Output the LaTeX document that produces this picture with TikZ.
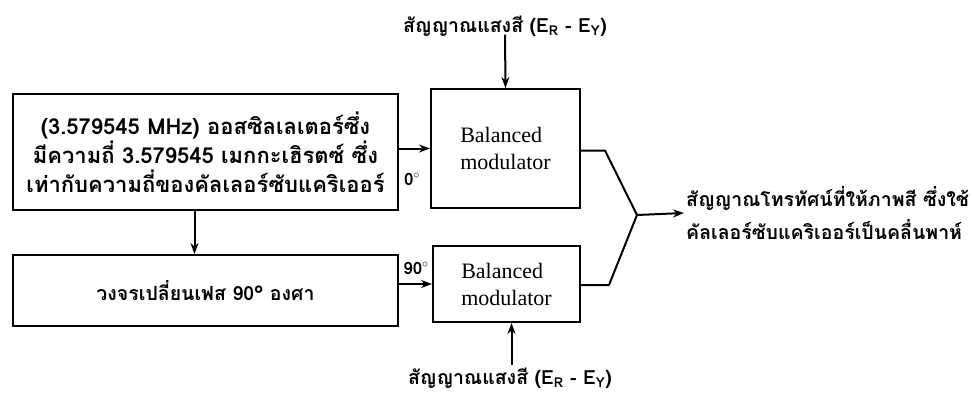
\documentclass[tikz,border=0pt]{standalone}
\usepackage{fontspec}
\setmainfont{Liberation Serif}
\newfontfamily\thai[Script=Thai]{Loma}
\usetikzlibrary{arrows.meta,calc}
\tikzset{
  blk/.style={draw,line width=2pt,inner sep=0pt,anchor=north west},
  thaitxt/.style={font=\thai\bfseries\fontsize{19.5}{29}\selectfont,align=center},
  bigthai/.style={font=\thai\bfseries\fontsize{22}{29}\selectfont,align=center},
  modtxt/.style={font=\fontsize{22}{27}\selectfont,align=left},
  conn/.style={line width=2pt},
  arr/.style={conn,-{Stealth[length=11pt,width=8pt]}},
  lbl/.style={font=\thai\bfseries\fontsize{17}{18}\selectfont,inner sep=1pt}
}
\begin{document}
\begin{tikzpicture}[x=1pt,y=-1pt]
\useasboundingbox (0,0) rectangle (972,396);
% blocks
\node[blk,minimum width=385pt,minimum height=116pt,bigthai] (osc) at (12,93)
  {(3.579545 MHz) ออสซิลเลเตอร์ซึ่ง\\มีความถี่ 3.579545 เมกกะเฮิรตซ์ ซึ่ง\\เท่ากับความถี่ของคัลเลอร์ซับแคริเออร์};
\node[blk,minimum width=385pt,minimum height=71pt,thaitxt] (ph) at (12,254)
  {วงจรเปลี่ยนเฟส 90° องศา};
\node[blk,minimum width=149pt,minimum height=119pt,modtxt] (m1) at (430,88)
  {Balanced\\modulator};
\node[blk,minimum width=147pt,minimum height=76pt,modtxt] (m2) at (432,245)
  {Balanced\\modulator};
% input labels
\node[thaitxt,inner sep=2pt] (t1) at (505,26) {สัญญาณแสงสี (E\textsubscript{R} - E\textsubscript{Y})};
\node[thaitxt,inner sep=2pt] (t2) at (510,378) {สัญญาณแสงสี (E\textsubscript{R} - E\textsubscript{Y})};
% output label
\node[thaitxt,align=left,anchor=west,inner sep=2pt,font=\thai\bfseries\fontsize{19.5}{33}\selectfont] (out) at (684,213)
  {สัญญาณโทรทัศน์ที่ให้ภาพสี ซึ่งใช้\\คัลเลอร์ซับแคริเออร์เป็นคลื่นพาห์};
\coordinate (j) at (637,215);
% connectors
\draw[arr] ([yshift=4pt]t1.south) -- (m1.north);
\draw[arr] ([xshift=5pt]m2.south |- t2.north) -- ([xshift=5pt]m2.south);
\draw[arr] (m1.west -| osc.east) -- (m1.west);
\draw[arr] (m2.west -| ph.east) -- (m2.west);
\draw[arr] ([xshift=-11pt]osc.south) -- ([xshift=-11pt]ph.north);
\draw[conn,line join=round] ([yshift=-2pt]m1.east) -- ++(24,0) -- (j);
\draw[conn,line join=round] ([yshift=-1pt]m2.east) -- ++(28,0) -- (j);
\draw[arr] (j) -- (out.west);
% angle labels
\node[lbl] (a0) at (412,179) {0$^{\circ}$};
\node[lbl] (a90) at (416,268) {90$^{\circ}$};
\end{tikzpicture}
\end{document}
